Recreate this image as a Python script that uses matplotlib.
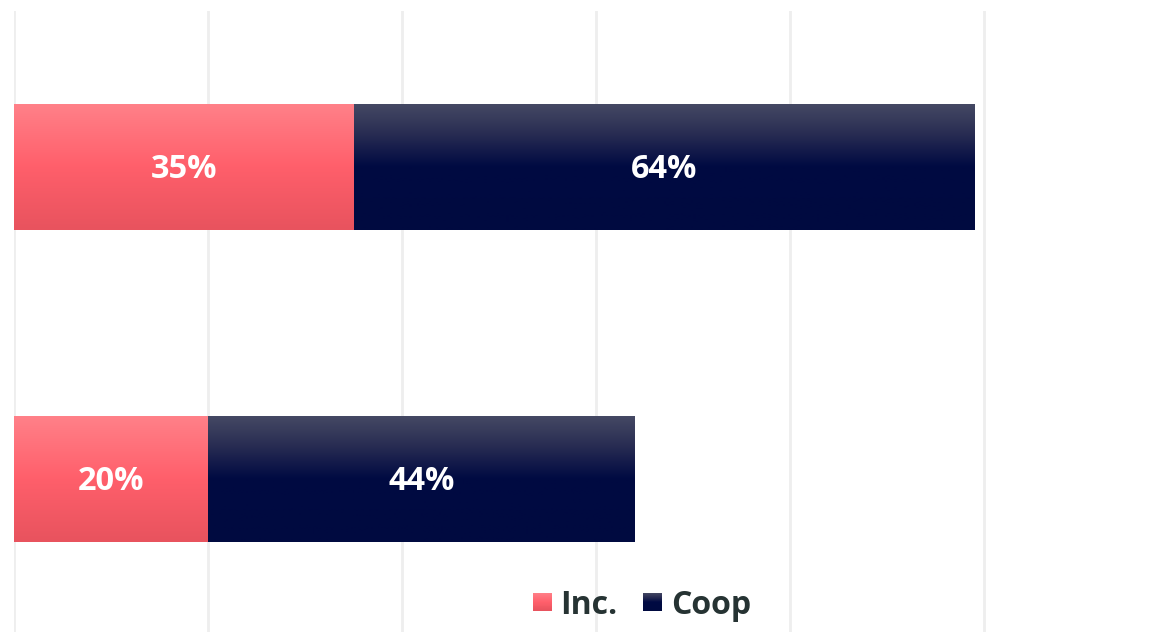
import matplotlib
matplotlib.use("Agg")
import matplotlib.pyplot as plt
import numpy as np
from matplotlib.colors import LinearSegmentedColormap
from matplotlib.patches import Patch, Rectangle
from matplotlib.legend_handler import HandlerBase
import matplotlib.transforms as mtransforms

categories = ["A", "B"]
inc_values = [35, 20]
coop_values = [64, 44]
series_names = ["Inc.", "Coop"]

plt.rcParams['font.family'] = ['Open Sans', 'DejaVu Sans']

fig = plt.figure(figsize=(11.6, 6.32), dpi=100)
W, H = 1160, 632
ax = fig.add_axes([14 / W, 0, 1146 / W, 621 / H])

pink_cmap = LinearSegmentedColormap.from_list(
    "pink", [(0, "#FF8189"), (0.5, "#FF5F6B"), (1, "#E8535E")])
navy_cmap = LinearSegmentedColormap.from_list(
    "navy", [(0, "#464A64"), (0.25, "#272B52"), (0.5, "#000A42"), (1, "#000A40")])

y = np.arange(len(categories))
bh = 0.404
bars_inc = ax.barh(y, inc_values, height=bh, color="#FF6670", zorder=2)
bars_coop = ax.barh(y, coop_values, left=inc_values, height=bh, color="#000A40", zorder=2)

grad = np.linspace(0, 1, 256).reshape(-1, 1)
for bars, cmap in ((bars_inc, pink_cmap), (bars_coop, navy_cmap)):
    for p in bars:
        x0, y0 = p.get_x(), p.get_y()
        w, h = p.get_width(), p.get_height()
        im = ax.imshow(grad, cmap=cmap, aspect="auto",
                       extent=(x0, x0 + w, y0 + h, y0), origin="upper", zorder=3,
                       interpolation="bilinear")
        im.set_clip_path(p)

offset = mtransforms.ScaledTranslation(0, -3 / 100, fig.dpi_scale_trans)
for i in range(len(categories)):
    ax.text(inc_values[i] / 2, y[i], f"{inc_values[i]}%", ha="center", va="center",
            color="white", fontsize=23.5, fontweight="bold", zorder=5,
            transform=ax.transData + offset)
    ax.text(inc_values[i] + coop_values[i] / 2, y[i], f"{coop_values[i]}%",
            ha="center", va="center", color="white", fontsize=23.5,
            fontweight="bold", zorder=5, transform=ax.transData + offset)

ax.set_xlim(0, 1146 / 9.7)
ax.set_ylim(1.4904, -0.5)
ax.set_xticks([0, 20, 40, 60, 80, 100])
ax.set_yticks([])
ax.xaxis.grid(True, color="#EEEEEE", linewidth=2, zorder=0)
ax.set_axisbelow(True)
ax.tick_params(axis="x", length=0, labelbottom=False)
for s in ax.spines.values():
    s.set_visible(False)


class GradientHandler(HandlerBase):
    def __init__(self, cmap):
        super().__init__()
        self.cmap = cmap

    def create_artists(self, legend, orig_handle, xdescent, ydescent, width,
                       height, fontsize, trans):
        n = 20
        side = min(width, height * 1.0)
        x0 = -xdescent
        y0 = -ydescent + (height - side) / 2
        arts = []
        for k in range(n):
            c = self.cmap(k / (n - 1))
            yy = y0 + side - (k + 1) * side / n
            r = Rectangle((x0, yy), side, side / n + 0.3, facecolor=c,
                          edgecolor="none", transform=trans)
            arts.append(r)
        return arts


h1 = Patch(facecolor="#FF6670", edgecolor="none")
h2 = Patch(facecolor="#000A40", edgecolor="none")
leg = fig.legend([h1, h2], series_names, loc="center",
                 bbox_to_anchor=(642 / W, 1 - 605 / H), ncol=2, frameon=False,
                 prop={"size": 23, "weight": "bold"}, handlelength=0.58,
                 handleheight=0.58, handletextpad=0.28, columnspacing=0.8,
                 handler_map={h1: GradientHandler(pink_cmap),
                              h2: GradientHandler(navy_cmap)})
for t in leg.get_texts():
    t.set_color("#263333")

fig.savefig("out.png", dpi=100, facecolor="white")
